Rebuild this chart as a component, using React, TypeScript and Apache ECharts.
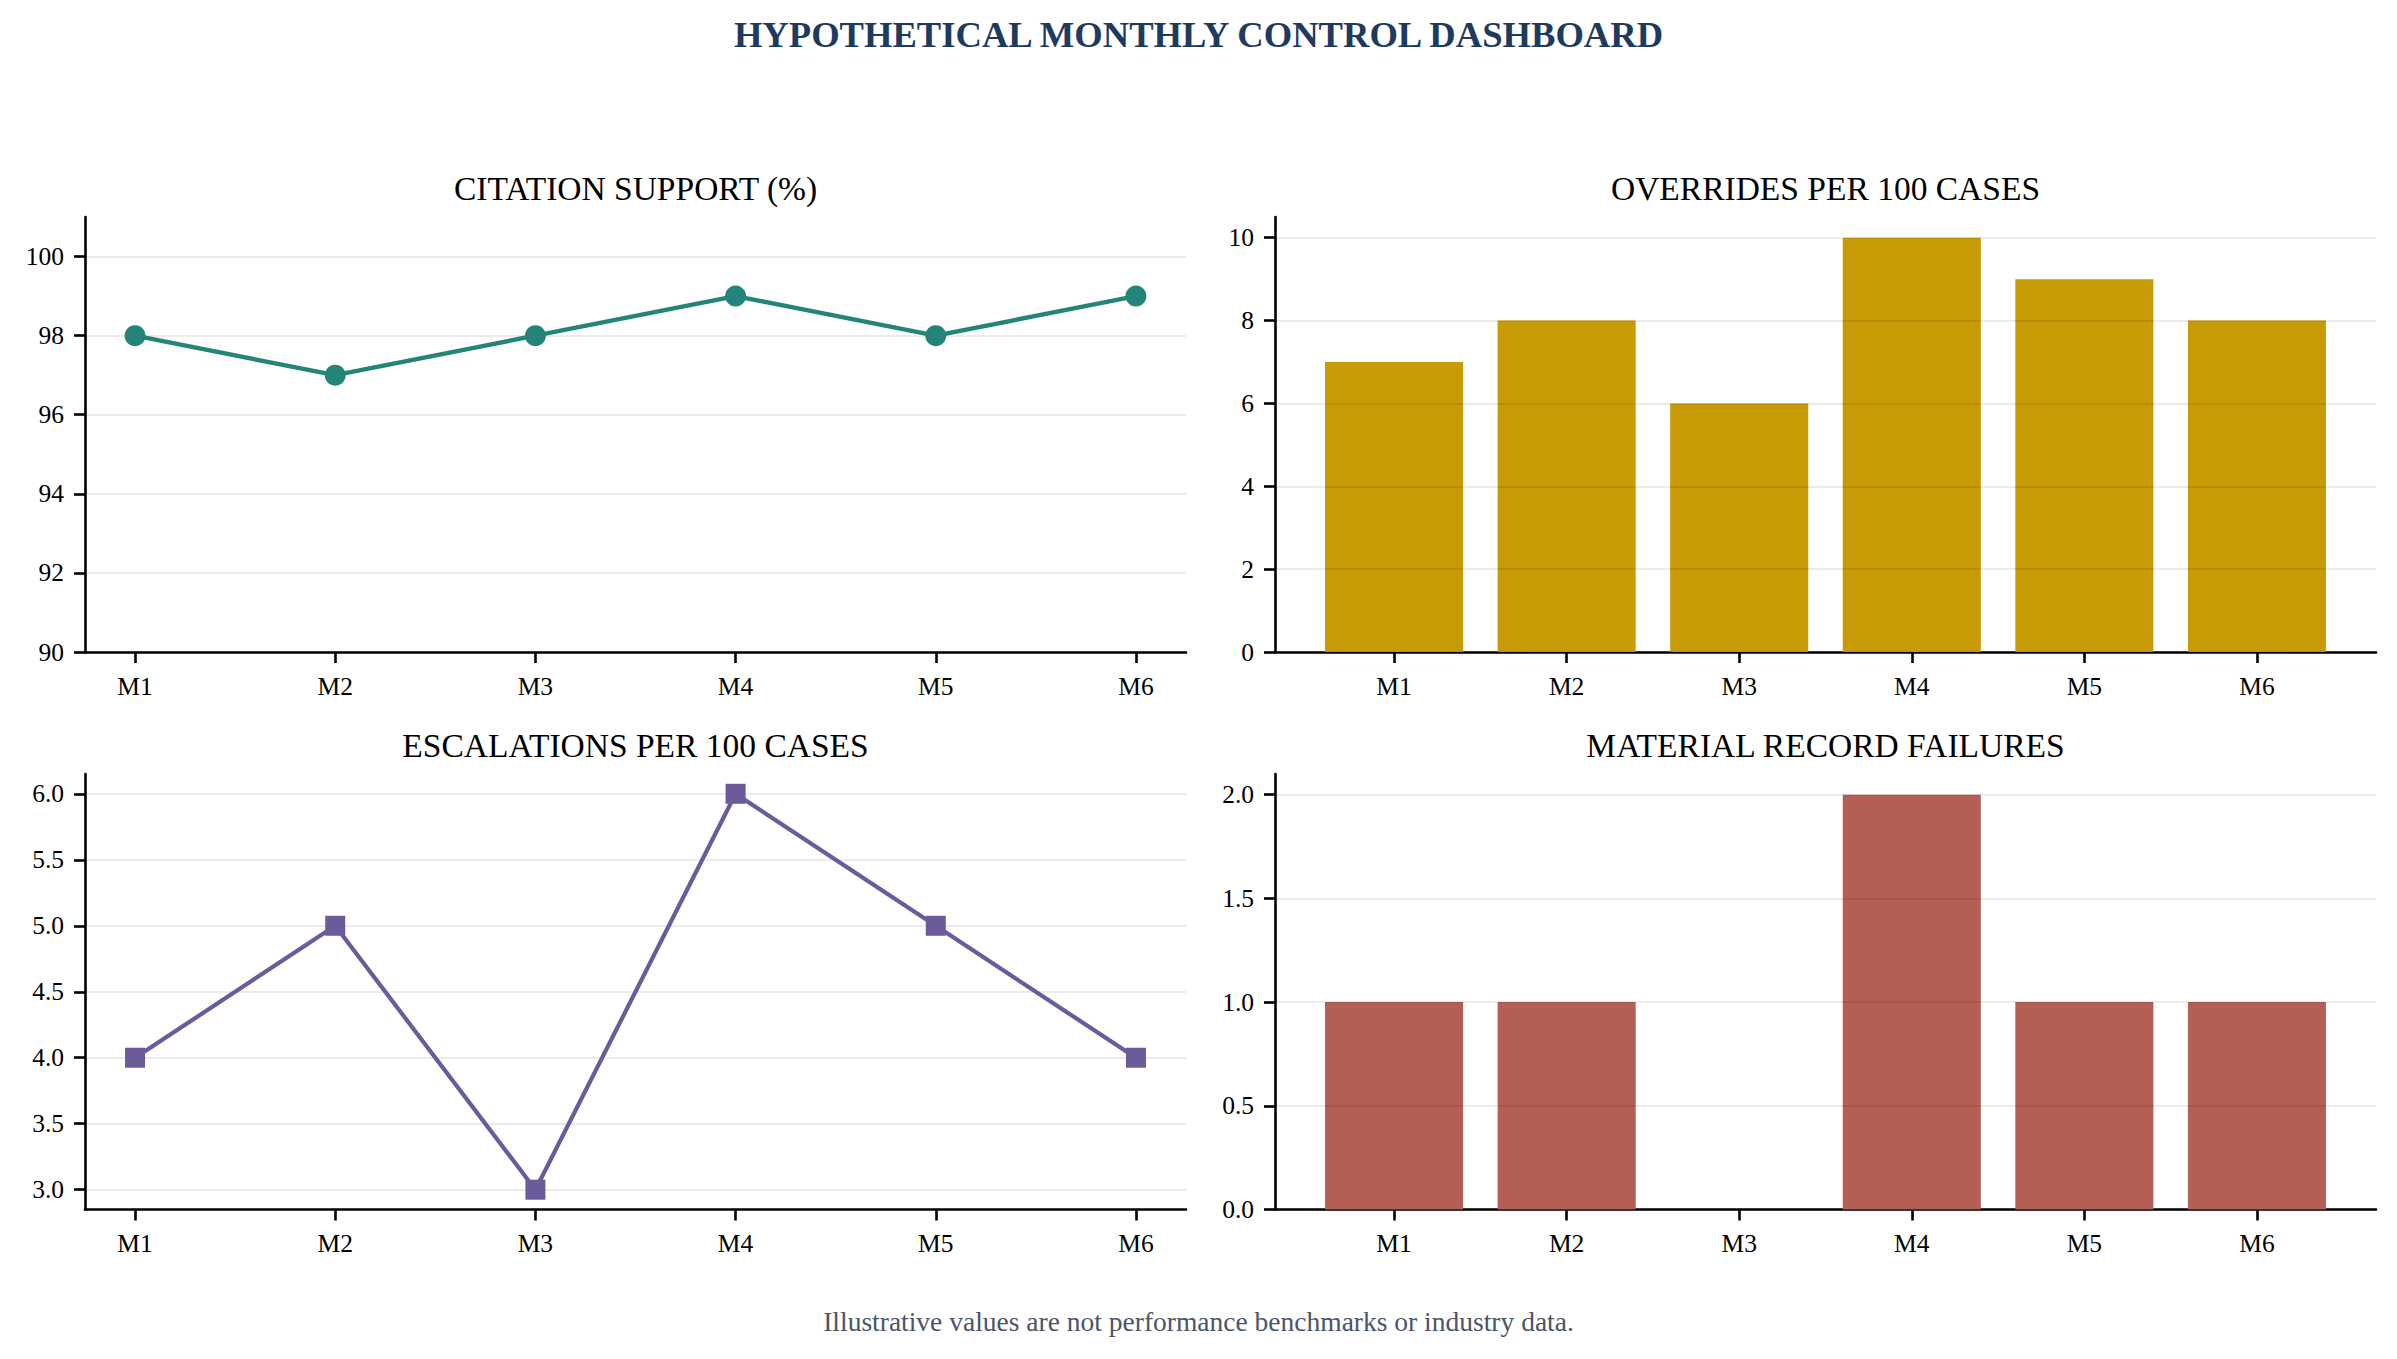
import React, { useEffect, useRef } from "react";
import * as echarts from "echarts";

// ---- Data ----
const months = ["M1", "M2", "M3", "M4", "M5", "M6"];
const citationSupport = [98, 97, 98, 99, 98, 99];
const overridesPer100 = [7, 8, 6, 10, 9, 8];
const escalationsPer100 = [4, 5, 3, 6, 5, 4];
const recordFailures = [1, 1, 0, 2, 1, 1];

const citationTicks = [90, 92, 94, 96, 98, 100];
const overrideTicks = [0, 2, 4, 6, 8, 10];
const escalationTicks = [3, 3.5, 4, 4.5, 5, 5.5, 6];
const failureTicks = [0, 0.5, 1, 1.5, 2];

const mainTitle = "HYPOTHETICAL MONTHLY CONTROL DASHBOARD";
const panelTitles = [
  "CITATION SUPPORT (%)",
  "OVERRIDES PER 100 CASES",
  "ESCALATIONS PER 100 CASES",
  "MATERIAL RECORD FAILURES",
];
const footerNote = "Illustrative values are not performance benchmarks or industry data.";

// ---- Styling ----
const FONT = "'Liberation Serif', 'Times New Roman', Times, serif";
const TEAL = "#23857a";
const GOLD = "#c79a06";
const PURPLE = "#6b5b9b";
const BRICK = "#b35f55";
const AXIS = { color: "#000", width: 2.6 };
const GRIDLINE = { color: "rgba(0,0,0,0.08)", width: 2 };

const monthIndex = months.map((_, i) => i);

const grids = [
  { left: 85, top: 217, width: 1101, height: 435 },
  { left: 1275, top: 217, width: 1101, height: 435 },
  { left: 85, top: 774, width: 1101, height: 435.5 },
  { left: 1275, top: 774, width: 1101, height: 435.5 },
];

function makeX(gridIndex: number, min: number, max: number) {
  return {
    type: "value",
    gridIndex,
    min,
    max,
    axisLine: { show: true, onZero: false, lineStyle: AXIS },
    axisTick: { show: true, customValues: monthIndex, length: 11, lineStyle: AXIS },
    axisLabel: {
      customValues: monthIndex,
      formatter: (v: number) => months[Math.round(v)] ?? "",
      color: "#000",
      fontSize: 25.5,
      fontFamily: FONT,
      margin: 21,
    },
    splitLine: { show: false },
  };
}

function makeY(
  gridIndex: number,
  min: number,
  max: number,
  ticks: number[],
  decimals: number,
  z: number
) {
  return {
    type: "value",
    gridIndex,
    min,
    max,
    z,
    axisLine: { show: true, onZero: false, lineStyle: AXIS },
    axisTick: { show: true, customValues: ticks, length: 11, lineStyle: AXIS },
    axisLabel: {
      customValues: ticks,
      formatter: (v: number) => v.toFixed(decimals),
      color: "#000",
      fontSize: 25.5,
      fontFamily: FONT,
      margin: 21,
    },
    splitLine: { show: true, lineStyle: GRIDLINE },
  };
}

function barRenderer(color: string) {
  return (params: any, api: any) => {
    const x = api.value(0);
    const y = api.value(1);
    const p0 = api.coord([x - 0.4, y]);
    const p1 = api.coord([x + 0.4, 0]);
    return {
      type: "rect",
      shape: { x: p0[0], y: p0[1], width: p1[0] - p0[0], height: p1[1] - p0[1] },
      style: { fill: color },
    };
  };
}

function titleAt(text: string, cx: number, cy: number, size: number, color: string, weight: string) {
  return {
    text,
    left: cx,
    top: cy - size / 2,
    textAlign: "center",
    padding: 0,
    textStyle: { fontSize: size, fontWeight: weight, color, fontFamily: FONT },
  };
}

export default function App() {
  const ref = useRef<HTMLDivElement>(null);

  useEffect(() => {
    if (!ref.current) return;
    const chart = echarts.init(ref.current, null, { renderer: "svg" });
    const centers = grids.map((g) => g.left + g.width / 2);
    const option: any = {
      animation: false,
      backgroundColor: "#ffffff",
      textStyle: { fontFamily: FONT },
      title: [
        titleAt(mainTitle, 1198.5, 34, 36.6, "#1e3a5f", "bold"),
        titleAt(panelTitles[0], centers[0], 188.5, 33.5, "#000", "normal"),
        titleAt(panelTitles[1], centers[1], 188.5, 33.5, "#000", "normal"),
        titleAt(panelTitles[2], centers[2], 745.5, 33.5, "#000", "normal"),
        titleAt(panelTitles[3], centers[3], 745.5, 33.5, "#000", "normal"),
        titleAt(footerNote, 1198.5, 1321, 27.5, "#4a5568", "normal"),
      ],
      grid: grids,
      xAxis: [
        makeX(0, -0.25, 5.25),
        makeX(1, -0.69, 5.69),
        makeX(2, -0.25, 5.25),
        makeX(3, -0.69, 5.69),
      ],
      yAxis: [
        makeY(0, 90, 101, citationTicks, 0, 0),
        makeY(1, 0, 10.5, overrideTicks, 0, 5),
        makeY(2, 2.85, 6.15, escalationTicks, 1, 0),
        makeY(3, 0, 2.1, failureTicks, 1, 5),
      ],
      series: [
        {
          type: "line",
          xAxisIndex: 0,
          yAxisIndex: 0,
          data: citationSupport.map((v, i) => [i, v]),
          symbol: "circle",
          symbolSize: 21,
          itemStyle: { color: TEAL },
          lineStyle: { color: TEAL, width: 4.4 },
          silent: true,
        },
        {
          type: "custom",
          xAxisIndex: 1,
          yAxisIndex: 1,
          data: overridesPer100.map((v, i) => [i, v]),
          encode: { x: 0, y: 1 },
          renderItem: barRenderer(GOLD),
          silent: true,
        },
        {
          type: "line",
          xAxisIndex: 2,
          yAxisIndex: 2,
          data: escalationsPer100.map((v, i) => [i, v]),
          symbol: "rect",
          symbolSize: 20,
          itemStyle: { color: PURPLE },
          lineStyle: { color: PURPLE, width: 4.2 },
          silent: true,
        },
        {
          type: "custom",
          xAxisIndex: 3,
          yAxisIndex: 3,
          data: recordFailures.map((v, i) => [i, v]),
          encode: { x: 0, y: 1 },
          renderItem: barRenderer(BRICK),
          silent: true,
        },
      ],
    };
    chart.setOption(option);
    return () => {
      chart.dispose();
    };
  }, []);

  return (
    <div
      ref={ref}
      style={{ position: "absolute", left: 0, top: 0, width: 2397, height: 1359, background: "#fff" }}
    />
  );
}
